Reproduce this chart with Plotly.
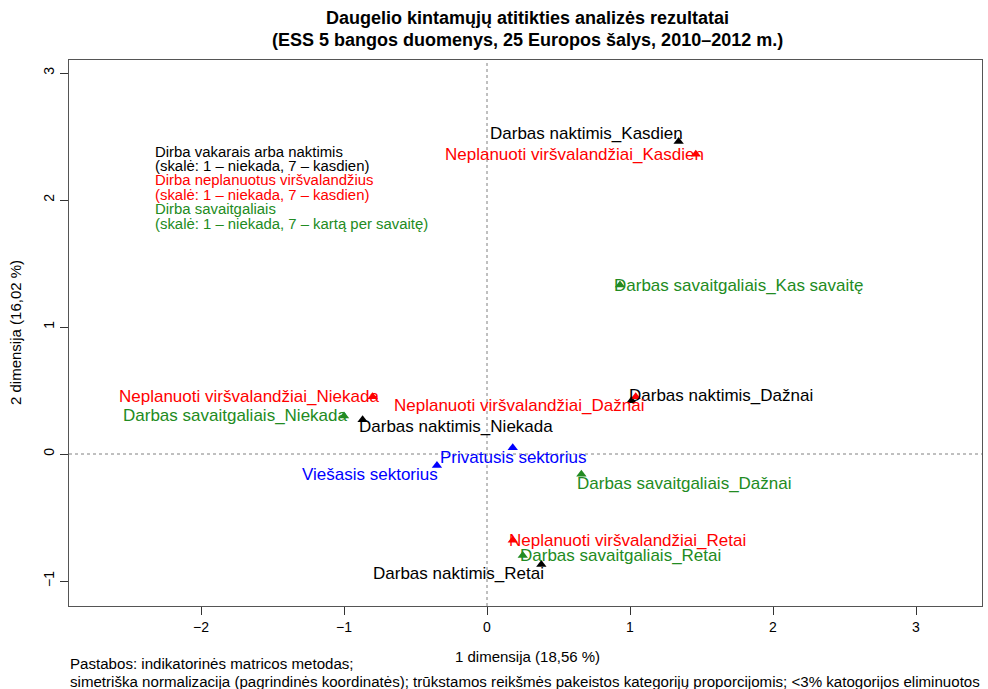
import plotly.graph_objects as go

# ---- data ----
point_names = [
    "Darbas naktimis_Kasdien",
    "Neplanuoti viršvalandžiai_Kasdien",
    "Darbas savaitgaliais_Kas savaitę",
    "Darbas naktimis_Dažnai",
    "Neplanuoti viršvalandžiai_Dažnai",
    "Neplanuoti viršvalandžiai_Niekada",
    "Darbas savaitgaliais_Niekada",
    "Darbas naktimis_Niekada",
    "Privatusis sektorius",
    "Viešasis sektorius",
    "Darbas savaitgaliais_Dažnai",
    "Neplanuoti viršvalandžiai_Retai",
    "Darbas savaitgaliais_Retai",
    "Darbas naktimis_Retai",
]
dim1 = [1.34, 1.46, 0.93, 1.01, 1.04, -0.80, -1.00, -0.87, 0.18, -0.35, 0.66, 0.18, 0.25, 0.38]
dim2 = [2.46, 2.36, 1.33, 0.42, 0.45, 0.45, 0.30, 0.27, 0.05, -0.09, -0.16, -0.68, -0.80, -0.87]
groups = ["naktimis", "neplanuoti", "savaitgaliais", "naktimis", "neplanuoti",
          "neplanuoti", "savaitgaliais", "naktimis", "sektorius", "sektorius",
          "savaitgaliais", "neplanuoti", "savaitgaliais", "naktimis"]

legend_lines = [
    ("Dirba vakarais arba naktimis", "naktimis"),
    ("(skalė: 1 – niekada, 7 – kasdien)", "naktimis"),
    ("Dirba neplanuotus viršvalandžius", "neplanuoti"),
    ("(skalė: 1 – niekada, 7 – kasdien)", "neplanuoti"),
    ("Dirba savaitgaliais", "savaitgaliais"),
    ("(skalė: 1 – niekada, 7 – kartą per savaitę)", "savaitgaliais"),
]

x_ticks = [-2, -1, 0, 1, 2, 3]
y_ticks = [-1, 0, 1, 2, 3]

title_lines = ["Daugelio kintamųjų atitikties analizės rezultatai",
               "(ESS 5 bangos duomenys, 25 Europos šalys, 2010–2012 m.)"]
x_title = "1 dimensija (18,56 %)"
y_title = "2 dimensija (16,02 %)"
note_lines = ["Pastabos: indikatorinės matricos metodas;",
              "simetriška normalizacija (pagrindinės koordinatės); trūkstamos reikšmės pakeistos kategorijų proporcijomis; <3% katogorijos eliminuotos"]

# ---- styles ----
colors = {"naktimis": "#000000", "neplanuoti": "#FF0000",
          "savaitgaliais": "#228B22", "sektorius": "#0000FF"}
# label placement: (xanchor, xshift px, yshift px)
label_pos = [
    ("right", 6, 8), ("right", 10, 0), ("left", -8, 0), ("left", -4, 5),
    ("right", 10, -9), ("right", 8, 0), ("right", 6, 0), ("left", -6, -7),
    ("center", 0, -10), ("right", 3, -9), ("left", -6, -9), ("left", -6, 0),
    ("left", -5, 0), ("right", 5, -9),
]

W, H = 988, 689
L, R, T, B = 69, 982, 60, 606
def px(xp):
    return (xp - L) / (R - L)
def py(yp):
    return (B - yp) / (B - T)

FONT = "Liberation Sans, Arial, sans-serif"
NARROW = "Liberation Sans Narrow, Arial Narrow, Liberation Sans, sans-serif"

fig = go.Figure()
for g in ["naktimis", "neplanuoti", "savaitgaliais", "sektorius"]:
    xs = [x for x, gg in zip(dim1, groups) if gg == g]
    ys = [y for y, gg in zip(dim2, groups) if gg == g]
    fig.add_trace(go.Scatter(x=xs, y=ys, mode="markers",
                             marker=dict(symbol="triangle-up", size=9, color=colors[g]),
                             showlegend=False, hoverinfo="skip"))

annotations = []
for name, x, y, g, (anc, xs, ys) in zip(point_names, dim1, dim2, groups, label_pos):
    annotations.append(dict(x=x, y=y, xref="x", yref="y", text=name, showarrow=False,
                            xanchor=anc, yanchor="middle", xshift=xs, yshift=ys,
                            font=dict(family=FONT, size=17, color=colors[g])))

leg_y = [152, 166, 180, 195, 209, 224]
for (txt, g), yy in zip(legend_lines, leg_y):
    annotations.append(dict(x=px(153), y=py(yy), xref="paper", yref="paper", text=txt,
                            showarrow=False, xanchor="left", yanchor="middle",
                            font=dict(family=FONT, size=14.9, color=colors[g])))

for txt, yy in zip(title_lines, [18, 40]):
    annotations.append(dict(x=px(527), y=py(yy), xref="paper", yref="paper",
                            text="<b>" + txt + "</b>", showarrow=False,
                            xanchor="center", yanchor="middle",
                            font=dict(family=NARROW, size=18, color="black")))

annotations.append(dict(x=px(527), y=py(656), xref="paper", yref="paper", text=x_title,
                        showarrow=False, xanchor="center", yanchor="middle",
                        font=dict(family=NARROW, size=15, color="black")))
annotations.append(dict(x=px(15), y=py(333), xref="paper", yref="paper", text=y_title,
                        showarrow=False, xanchor="center", yanchor="middle", textangle=-90,
                        font=dict(family=NARROW, size=15, color="black")))
for txt, yy in zip(note_lines, [663, 681]):
    annotations.append(dict(x=px(68), y=py(yy), xref="paper", yref="paper", text=txt,
                            showarrow=False, xanchor="left", yanchor="middle",
                            font=dict(family=NARROW, size=15.1, color="black")))

xr = [(L - 487) / 143.0, (R - 487) / 143.0]
yr = [-1 - (B - 581) / 127.0, 3 + (73 - T) / 127.0]

fig.add_shape(type="line", x0=0, x1=0, y0=0, y1=1, xref="x", yref="paper",
              line=dict(color="#808080", width=1, dash="dot"), layer="below")
fig.add_shape(type="line", x0=0, x1=1, y0=0, y1=0, xref="paper", yref="y",
              line=dict(color="#808080", width=1, dash="dot"), layer="below")

fig.update_layout(
    width=W, height=H,
    margin=dict(l=L, r=W - R, t=T, b=H - B),
    paper_bgcolor="white", plot_bgcolor="white",
    annotations=annotations,
    font=dict(family=NARROW, size=14, color="black"),
    xaxis=dict(range=xr, tickvals=x_ticks, ticks="outside", ticklen=8, tickcolor="#333",
               showline=True, mirror=True, linecolor="#555", linewidth=1,
               showgrid=False, zeroline=False, tickfont=dict(family=NARROW, size=14)),
    yaxis=dict(range=yr, tickvals=y_ticks, ticks="outside", ticklen=8, tickcolor="#333",
               showline=True, mirror=True, linecolor="#555", linewidth=1, tickangle=-90,
               showgrid=False, zeroline=False, tickfont=dict(family=NARROW, size=14)),
)

fig.write_html("out.html", config={"displayModeBar": False},
               post_script="document.body.style.margin='0';")
